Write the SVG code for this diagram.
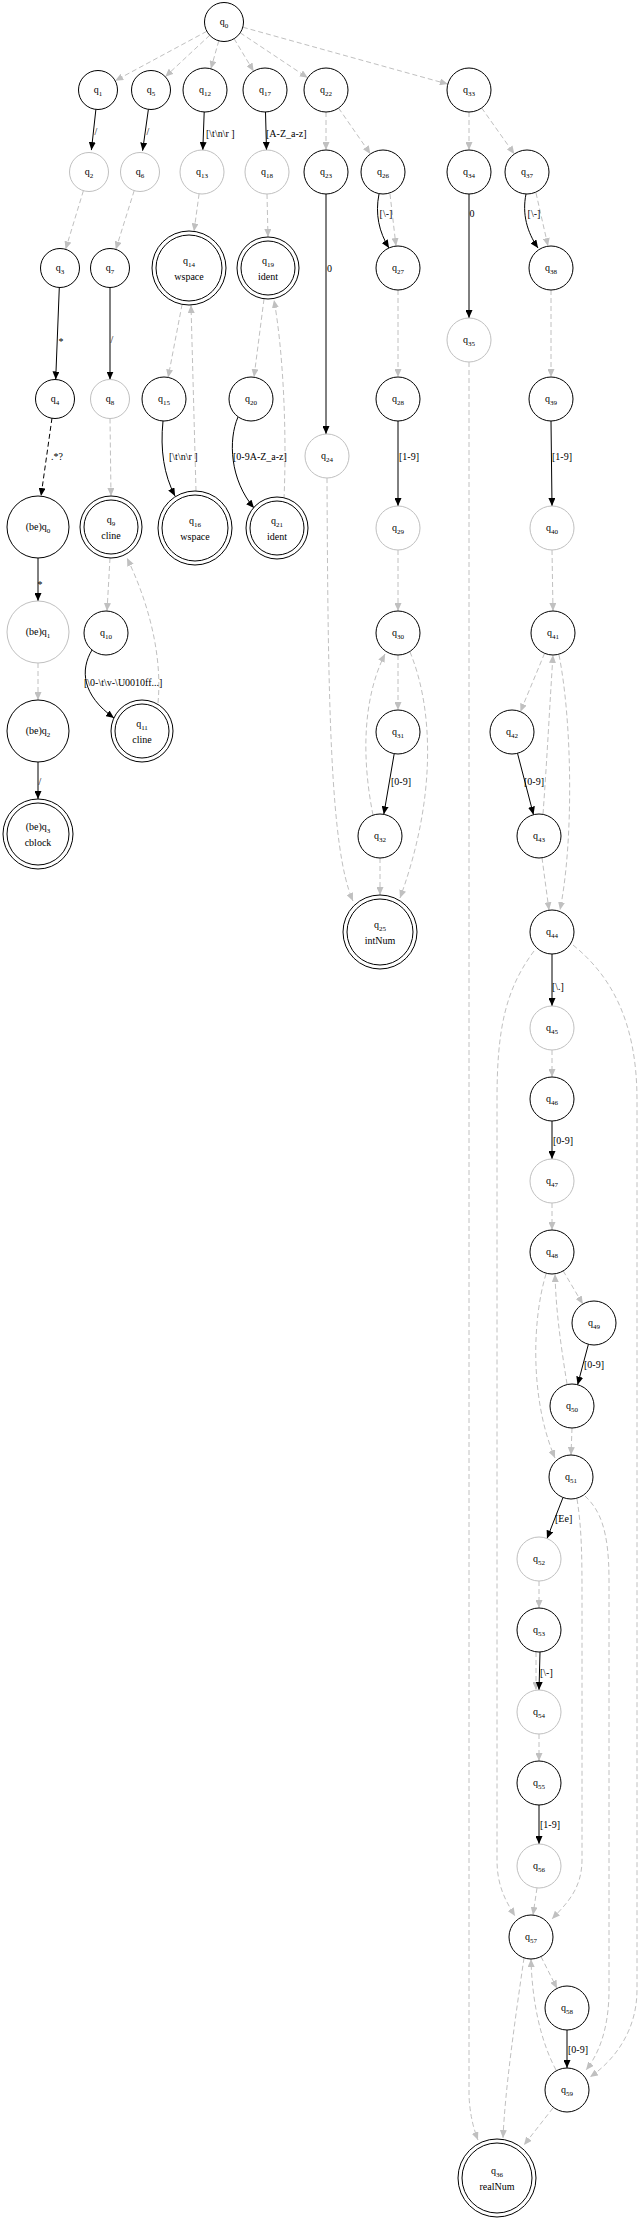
<svg xmlns="http://www.w3.org/2000/svg" width="640" height="2220" viewBox="0 0 640 2220">
<defs>
<marker id="ab" markerUnits="userSpaceOnUse" markerWidth="8" markerHeight="7" refX="8" refY="3.5" orient="auto"><path d="M0,0 L8,3.5 L0,7 z" fill="#000"/></marker>
<marker id="ag" markerUnits="userSpaceOnUse" markerWidth="8" markerHeight="7" refX="8" refY="3.5" orient="auto"><path d="M0,0 L8,3.5 L0,7 z" fill="#c0c0c0"/></marker>
</defs>
<style>
.n{fill:#fff;stroke:#000;stroke-width:1}
.g{fill:#fff;stroke:#c0c0c0;stroke-width:1}
.t{font-family:"Liberation Serif",serif;font-size:10px;text-anchor:middle;fill:#000}
.l{font-family:"Liberation Serif",serif;font-size:10px;fill:#000}
.s{font-size:7px}
.e{fill:none;stroke:#000;stroke-width:1;marker-end:url(#ab)}
.d{fill:none;stroke:#c0c0c0;stroke-width:1;stroke-dasharray:5,3;marker-end:url(#ag)}
.db{fill:none;stroke:#000;stroke-width:1;stroke-dasharray:5,3;marker-end:url(#ab)}
</style>
<rect width="640" height="2220" fill="#fff"/>
<g id="edges">
<path class="d" d="M206.8,31.3 L115.2,80.7"/>
<path class="d" d="M209.7,35.3 L165.3,76.7"/>
<path class="d" d="M218.8,40.8 L210.9,68.8"/>
<path class="d" d="M234.1,38.7 L253.6,71.2"/>
<path class="d" d="M240.2,32.8 L307.7,77.8"/>
<path class="d" d="M242.8,27.2 L447.8,84.1"/>
<path class="e" d="M95.9,109.4 L91.4,150.1"/>
<text class="t" x="96" y="135">/</text>
<path class="e" d="M148.4,109.3 L142.6,150.7"/>
<text class="t" x="148" y="135">/</text>
<path class="e" d="M204.2,112 L202.8,150"/>
<text class="l" x="206" y="137">[\t\n\r ]</text>
<path class="e" d="M265.5,112 L266.5,150"/>
<text class="l" x="266" y="137">[A-Z_a-z]</text>
<path class="d" d="M326,112 L326,150"/>
<path class="d" d="M338.6,108.1 L370.4,153.9"/>
<path class="d" d="M469,112 L469,150"/>
<path class="d" d="M481.7,108 L514.3,154"/>
<path class="d" d="M83.4,190.7 L65.6,249.3"/>
<path class="d" d="M134.2,190.6 L115.8,249.4"/>
<path class="d" d="M199.1,193.8 L194,231.3"/>
<path class="d" d="M267,194 L268,237"/>
<path class="e" d="M326,194 L326,434"/>
<text class="l" x="327" y="272">0</text>
<path class="e" d="M379,194 C375,214 379,232 389,248"/>
<path class="d" d="M390,194 L396,246"/>
<text class="t" x="386" y="217">[\-]</text>
<path class="e" d="M469,194 L469,318"/>
<text class="t" x="472" y="217">0</text>
<path class="e" d="M526,194 C522,214 527,232 538,248"/>
<path class="d" d="M536,193 L548,246"/>
<text class="t" x="534" y="217">[\-]</text>
<path class="e" d="M59.3,287.5 L55.7,379.5"/>
<text class="t" x="61" y="345">*</text>
<path class="e" d="M110,287.5 L110,379.5"/>
<text class="t" x="112" y="343">/</text>
<path class="d" d="M182.1,304.3 L168.1,377.4"/>
<path class="d" d="M196,491 L191,305"/>
<path class="d" d="M264,299 L254,377"/>
<path class="d" d="M284,499 C287,430 283,350 274,300"/>
<path class="d" d="M398,290 L398,377"/>
<path class="d" d="M551,290 L551,377"/>
<path class="db" d="M52,418 L41,496"/>
<text class="l" x="51" y="460">.*?</text>
<path class="d" d="M110,418.5 L111,496"/>
<path class="e" d="M163,421 C160,450 164,475 175,496"/>
<text class="l" x="169" y="460">[\t\n\r ]</text>
<path class="e" d="M238,417 C228,440 230,480 254,508"/>
<text class="l" x="233" y="460">[0-9A-Z_a-z]</text>
<path class="e" d="M398,421 L398,506"/>
<text class="l" x="399" y="460">[1-9]</text>
<path class="e" d="M551,421 L552,506"/>
<text class="l" x="552" y="460">[1-9]</text>
<path class="e" d="M38,558 L38,601"/>
<text class="t" x="40" y="588">*</text>
<path class="d" d="M110,558 L107,611"/>
<path class="d" d="M158,703 C163,650 145,595 127,558"/>
<path class="d" d="M398,550 L398,611"/>
<path class="d" d="M552,550 L553,611"/>
<path class="d" d="M38,663 L38,700"/>
<path class="e" d="M92,650 C80,670 82,695 114,718"/>
<text class="l" x="84" y="686">[\0-\t\v-\U0010ff...]</text>
<path class="d" d="M398,655 L398,710"/>
<path class="d" d="M373,815 C362,760 362,700 385,654"/>
<path class="d" d="M410,652 C434,710 436,800 400,898"/>
<path class="d" d="M544.6,653.3 L520.4,711.7"/>
<path class="d" d="M543,814 C547,760 550,700 553,655"/>
<path class="d" d="M559,655 C572,720 574,840 560,910"/>
<path class="e" d="M38,762 L38,799"/>
<text class="t" x="40" y="785">/</text>
<path class="e" d="M394.2,753.7 L383.8,814.3"/>
<text class="l" x="391" y="785">[0-9]</text>
<path class="e" d="M517.5,753.3 L533.5,814.7"/>
<text class="l" x="524" y="785">[0-9]</text>
<path class="d" d="M327,478 C328,700 330,850 353,901"/>
<path class="d" d="M380,858 L380,895"/>
<path class="d" d="M542,857.8 L549,910.2"/>
<path class="d" d="M469,362 L469,2095 Q470,2120 478,2140"/>
<path class="e" d="M552,954 L552,1006"/>
<text class="l" x="552" y="990">[\.]</text>
<path class="d" d="M534,951 C505,990 497,1030 497,1100 L497,1860 C497,1885 505,1900 515,1916"/>
<path class="d" d="M573,945 C610,975 637,1020 637,1100 L637,1990 C637,2030 615,2060 590,2077"/>
<path class="d" d="M552,1050 L552,1077"/>
<path class="e" d="M552,1121 L552,1159"/>
<text class="l" x="553" y="1144">[0-9]</text>
<path class="d" d="M552,1203 L552,1230"/>
<path class="d" d="M563.2,1270.9 L582.8,1304.1"/>
<path class="d" d="M567,1384 C560,1340 556,1310 555,1274"/>
<path class="d" d="M546,1274 C532,1320 530,1400 555,1458"/>
<path class="e" d="M588.4,1344.3 L577.6,1384.7"/>
<text class="l" x="584" y="1368">[0-9]</text>
<path class="d" d="M572,1428 L571,1455"/>
<path class="e" d="M563,1497.5 L547,1538.5"/>
<text class="l" x="555" y="1522">[Ee]</text>
<path class="d" d="M577,1499 C582,1530 582,1560 582,1600 L582,1860 C582,1890 565,1905 552,1919"/>
<path class="d" d="M585,1496 C600,1510 609,1530 609,1580 L609,1990 C609,2030 598,2055 586,2070"/>
<path class="d" d="M539,1581 L539,1608"/>
<path class="d" d="M536,1652 L536,1690"/>
<path class="e" d="M540,1652 L539,1690"/>
<text class="l" x="540" y="1676">[\-]</text>
<path class="d" d="M539,1734 L539,1761"/>
<path class="e" d="M539,1805 L539,1844"/>
<text class="l" x="540" y="1828">[1-9]</text>
<path class="d" d="M537,1888 L533,1915"/>
<path class="d" d="M541,1956.6 L557,1988.4"/>
<path class="d" d="M556,2070 C540,2040 532,2000 531,1959"/>
<path class="d" d="M524,1958 C515,2020 505,2090 503,2138"/>
<path class="e" d="M567,2030 L567,2068"/>
<text class="l" x="568" y="2053">[0-9]</text>
<path class="d" d="M553,2108 L524,2145"/>
</g>
<g id="q0"><circle class="n" cx="224" cy="22" r="19.5"/><text class="t" x="224" y="25">q<tspan class="s" dy="2.5">0</tspan></text></g>
<g id="q1"><circle class="n" cx="98" cy="90" r="19.5"/><text class="t" x="98" y="93">q<tspan class="s" dy="2.5">1</tspan></text></g>
<g id="q5"><circle class="n" cx="151" cy="90" r="19.5"/><text class="t" x="151" y="93">q<tspan class="s" dy="2.5">5</tspan></text></g>
<g id="q12"><circle class="n" cx="205" cy="90" r="22"/><text class="t" x="205" y="93">q<tspan class="s" dy="2.5">12</tspan></text></g>
<g id="q17"><circle class="n" cx="265" cy="90" r="22"/><text class="t" x="265" y="93">q<tspan class="s" dy="2.5">17</tspan></text></g>
<g id="q22"><circle class="n" cx="326" cy="90" r="22"/><text class="t" x="326" y="93">q<tspan class="s" dy="2.5">22</tspan></text></g>
<g id="q33"><circle class="n" cx="469" cy="90" r="22"/><text class="t" x="469" y="93">q<tspan class="s" dy="2.5">33</tspan></text></g>
<g id="q2"><circle class="g" cx="89" cy="172" r="19.5"/><text class="t" x="89" y="175">q<tspan class="s" dy="2.5">2</tspan></text></g>
<g id="q6"><circle class="g" cx="140" cy="172" r="19.5"/><text class="t" x="140" y="175">q<tspan class="s" dy="2.5">6</tspan></text></g>
<g id="q13"><circle class="g" cx="202" cy="172" r="22"/><text class="t" x="202" y="175">q<tspan class="s" dy="2.5">13</tspan></text></g>
<g id="q18"><circle class="g" cx="267" cy="172" r="22"/><text class="t" x="267" y="175">q<tspan class="s" dy="2.5">18</tspan></text></g>
<g id="q23"><circle class="n" cx="326" cy="172" r="22"/><text class="t" x="326" y="175">q<tspan class="s" dy="2.5">23</tspan></text></g>
<g id="q26"><circle class="n" cx="383" cy="172" r="22"/><text class="t" x="383" y="175">q<tspan class="s" dy="2.5">26</tspan></text></g>
<g id="q34"><circle class="n" cx="469" cy="172" r="22"/><text class="t" x="469" y="175">q<tspan class="s" dy="2.5">34</tspan></text></g>
<g id="q37"><circle class="n" cx="527" cy="172" r="22"/><text class="t" x="527" y="175">q<tspan class="s" dy="2.5">37</tspan></text></g>
<g id="q3"><circle class="n" cx="60" cy="268" r="19.5"/><text class="t" x="60" y="271">q<tspan class="s" dy="2.5">3</tspan></text></g>
<g id="q7"><circle class="n" cx="110" cy="268" r="19.5"/><text class="t" x="110" y="271">q<tspan class="s" dy="2.5">7</tspan></text></g>
<g id="q14"><circle class="n" cx="189" cy="268" r="37"/><circle class="n" cx="189" cy="268" r="33"/><text class="t" x="189" y="264">q<tspan class="s" dy="2.5">14</tspan></text><text class="t" x="189" y="280">wspace</text></g>
<g id="q19"><circle class="n" cx="268" cy="268" r="31"/><circle class="n" cx="268" cy="268" r="27"/><text class="t" x="268" y="264">q<tspan class="s" dy="2.5">19</tspan></text><text class="t" x="268" y="280">ident</text></g>
<g id="q27"><circle class="n" cx="398" cy="268" r="22"/><text class="t" x="398" y="271">q<tspan class="s" dy="2.5">27</tspan></text></g>
<g id="q38"><circle class="n" cx="551" cy="268" r="22"/><text class="t" x="551" y="271">q<tspan class="s" dy="2.5">38</tspan></text></g>
<g id="q35"><circle class="g" cx="469" cy="340" r="22"/><text class="t" x="469" y="343">q<tspan class="s" dy="2.5">35</tspan></text></g>
<g id="q4"><circle class="n" cx="55" cy="399" r="19.5"/><text class="t" x="55" y="402">q<tspan class="s" dy="2.5">4</tspan></text></g>
<g id="q8"><circle class="g" cx="110" cy="399" r="19.5"/><text class="t" x="110" y="402">q<tspan class="s" dy="2.5">8</tspan></text></g>
<g id="q15"><circle class="n" cx="164" cy="399" r="22"/><text class="t" x="164" y="402">q<tspan class="s" dy="2.5">15</tspan></text></g>
<g id="q20"><circle class="n" cx="251" cy="399" r="22"/><text class="t" x="251" y="402">q<tspan class="s" dy="2.5">20</tspan></text></g>
<g id="q28"><circle class="n" cx="398" cy="399" r="22"/><text class="t" x="398" y="402">q<tspan class="s" dy="2.5">28</tspan></text></g>
<g id="q39"><circle class="n" cx="551" cy="399" r="22"/><text class="t" x="551" y="402">q<tspan class="s" dy="2.5">39</tspan></text></g>
<g id="q24"><circle class="g" cx="327" cy="456" r="22"/><text class="t" x="327" y="459">q<tspan class="s" dy="2.5">24</tspan></text></g>
<g id="beq0"><circle class="n" cx="38" cy="527" r="31"/><text class="t" x="38" y="530">(be)q<tspan class="s" dy="2.5">0</tspan></text></g>
<g id="q9"><circle class="n" cx="111" cy="527" r="31"/><circle class="n" cx="111" cy="527" r="27"/><text class="t" x="111" y="523">q<tspan class="s" dy="2.5">9</tspan></text><text class="t" x="111" y="539">cline</text></g>
<g id="q16"><circle class="n" cx="195" cy="528" r="37"/><circle class="n" cx="195" cy="528" r="33"/><text class="t" x="195" y="524">q<tspan class="s" dy="2.5">16</tspan></text><text class="t" x="195" y="540">wspace</text></g>
<g id="q21"><circle class="n" cx="277" cy="528" r="31"/><circle class="n" cx="277" cy="528" r="27"/><text class="t" x="277" y="524">q<tspan class="s" dy="2.5">21</tspan></text><text class="t" x="277" y="540">ident</text></g>
<g id="q29"><circle class="g" cx="398" cy="528" r="22"/><text class="t" x="398" y="531">q<tspan class="s" dy="2.5">29</tspan></text></g>
<g id="q40"><circle class="g" cx="552" cy="528" r="22"/><text class="t" x="552" y="531">q<tspan class="s" dy="2.5">40</tspan></text></g>
<g id="beq1"><circle class="g" cx="38" cy="632" r="31"/><text class="t" x="38" y="635">(be)q<tspan class="s" dy="2.5">1</tspan></text></g>
<g id="q10"><circle class="n" cx="106" cy="633" r="22"/><text class="t" x="106" y="636">q<tspan class="s" dy="2.5">10</tspan></text></g>
<g id="q30"><circle class="n" cx="398" cy="633" r="22"/><text class="t" x="398" y="636">q<tspan class="s" dy="2.5">30</tspan></text></g>
<g id="q41"><circle class="n" cx="553" cy="633" r="22"/><text class="t" x="553" y="636">q<tspan class="s" dy="2.5">41</tspan></text></g>
<g id="beq2"><circle class="n" cx="38" cy="731" r="31"/><text class="t" x="38" y="734">(be)q<tspan class="s" dy="2.5">2</tspan></text></g>
<g id="q11"><circle class="n" cx="142" cy="731" r="31"/><circle class="n" cx="142" cy="731" r="27"/><text class="t" x="142" y="727">q<tspan class="s" dy="2.5">11</tspan></text><text class="t" x="142" y="743">cline</text></g>
<g id="q31"><circle class="n" cx="398" cy="732" r="22"/><text class="t" x="398" y="735">q<tspan class="s" dy="2.5">31</tspan></text></g>
<g id="q42"><circle class="n" cx="512" cy="732" r="22"/><text class="t" x="512" y="735">q<tspan class="s" dy="2.5">42</tspan></text></g>
<g id="beq3"><circle class="n" cx="38" cy="834" r="35"/><circle class="n" cx="38" cy="834" r="31"/><text class="t" x="38" y="830">(be)q<tspan class="s" dy="2.5">3</tspan></text><text class="t" x="38" y="846">cblock</text></g>
<g id="q32"><circle class="n" cx="380" cy="836" r="22"/><text class="t" x="380" y="839">q<tspan class="s" dy="2.5">32</tspan></text></g>
<g id="q43"><circle class="n" cx="539" cy="836" r="22"/><text class="t" x="539" y="839">q<tspan class="s" dy="2.5">43</tspan></text></g>
<g id="q25"><circle class="n" cx="380" cy="932" r="37"/><circle class="n" cx="380" cy="932" r="33"/><text class="t" x="380" y="928">q<tspan class="s" dy="2.5">25</tspan></text><text class="t" x="380" y="944">intNum</text></g>
<g id="q44"><circle class="n" cx="552" cy="932" r="22"/><text class="t" x="552" y="935">q<tspan class="s" dy="2.5">44</tspan></text></g>
<g id="q45"><circle class="g" cx="552" cy="1028" r="22"/><text class="t" x="552" y="1031">q<tspan class="s" dy="2.5">45</tspan></text></g>
<g id="q46"><circle class="n" cx="552" cy="1099" r="22"/><text class="t" x="552" y="1102">q<tspan class="s" dy="2.5">46</tspan></text></g>
<g id="q47"><circle class="g" cx="552" cy="1181" r="22"/><text class="t" x="552" y="1184">q<tspan class="s" dy="2.5">47</tspan></text></g>
<g id="q48"><circle class="n" cx="552" cy="1252" r="22"/><text class="t" x="552" y="1255">q<tspan class="s" dy="2.5">48</tspan></text></g>
<g id="q49"><circle class="n" cx="594" cy="1323" r="22"/><text class="t" x="594" y="1326">q<tspan class="s" dy="2.5">49</tspan></text></g>
<g id="q50"><circle class="n" cx="572" cy="1406" r="22"/><text class="t" x="572" y="1409">q<tspan class="s" dy="2.5">50</tspan></text></g>
<g id="q51"><circle class="n" cx="571" cy="1477" r="22"/><text class="t" x="571" y="1480">q<tspan class="s" dy="2.5">51</tspan></text></g>
<g id="q52"><circle class="g" cx="539" cy="1559" r="22"/><text class="t" x="539" y="1562">q<tspan class="s" dy="2.5">52</tspan></text></g>
<g id="q53"><circle class="n" cx="539" cy="1630" r="22"/><text class="t" x="539" y="1633">q<tspan class="s" dy="2.5">53</tspan></text></g>
<g id="q54"><circle class="g" cx="539" cy="1712" r="22"/><text class="t" x="539" y="1715">q<tspan class="s" dy="2.5">54</tspan></text></g>
<g id="q55"><circle class="n" cx="539" cy="1783" r="22"/><text class="t" x="539" y="1786">q<tspan class="s" dy="2.5">55</tspan></text></g>
<g id="q56"><circle class="g" cx="539" cy="1866" r="22"/><text class="t" x="539" y="1869">q<tspan class="s" dy="2.5">56</tspan></text></g>
<g id="q57"><circle class="n" cx="531" cy="1937" r="22"/><text class="t" x="531" y="1940">q<tspan class="s" dy="2.5">57</tspan></text></g>
<g id="q58"><circle class="n" cx="567" cy="2008" r="22"/><text class="t" x="567" y="2011">q<tspan class="s" dy="2.5">58</tspan></text></g>
<g id="q59"><circle class="n" cx="567" cy="2090" r="22"/><text class="t" x="567" y="2093">q<tspan class="s" dy="2.5">59</tspan></text></g>
<g id="q36"><circle class="n" cx="497" cy="2178" r="39"/><circle class="n" cx="497" cy="2178" r="35"/><text class="t" x="497" y="2174">q<tspan class="s" dy="2.5">36</tspan></text><text class="t" x="497" y="2190">realNum</text></g>
</svg>
